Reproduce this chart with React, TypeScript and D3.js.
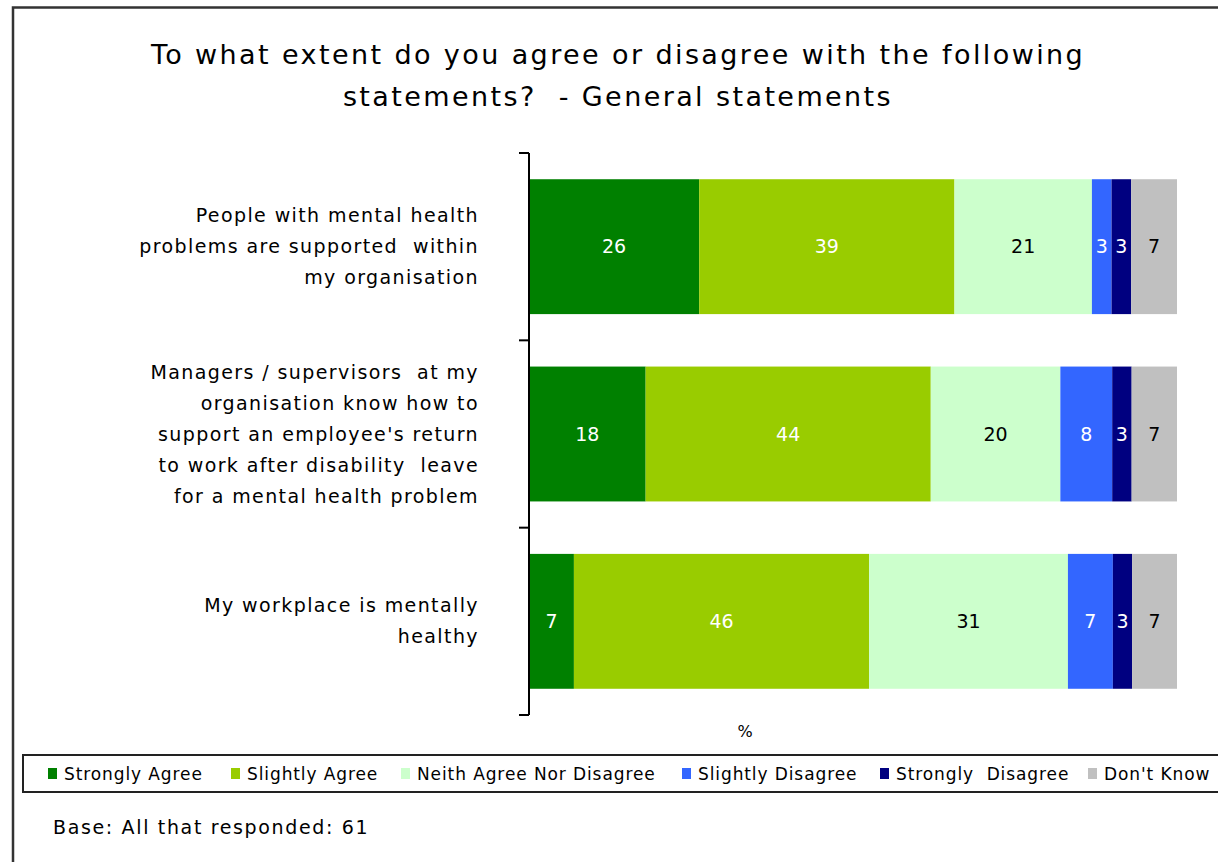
import React from "react";
import * as d3 from "d3";

const categories = [
  ["People with mental health", "problems are supported  within", "my organisation"],
  ["Managers / supervisors  at my", "organisation know how to", "support an employee's return", "to work after disability  leave", "for a mental health problem"],
  ["My workplace is mentally", "healthy"],
];
const seriesNames = ["Strongly Agree", "Slightly Agree", "Neith Agree Nor Disagree", "Slightly Disagree", "Strongly  Disagree", "Don't Know"];
const seriesColors = ["#008000", "#99cc00", "#ccffcc", "#3366ff", "#000080", "#c0c0c0"];
const labelColors = ["#ffffff", "#ffffff", "#000000", "#ffffff", "#ffffff", "#000000"];
const values = [
  [26, 39, 21, 3, 3, 7],
  [18, 44, 20, 8, 3, 7],
  [7, 46, 31, 7, 3, 7],
];
const titleLines = ["To what extent do you agree or disagree with the following", "statements?  - General statements"];
const baseNote = "Base: All that responded: 61";

const FONT = "'DejaVu Sans', sans-serif";

export default function App() {
  const W = 1218, H = 862;
  const x0 = 529, x1 = 1177;
  const yTop = 153, yBot = 715;
  const x = d3.scaleLinear().domain([0, 1]).range([x0, x1]);
  const y = d3.scaleBand<number>().domain(d3.range(categories.length)).range([yTop, yBot]).paddingInner(0.28).paddingOuter(0.14);
  const tickYs = d3.range(categories.length + 1).map((i) => yTop + (i * (yBot - yTop)) / categories.length);

  const rows = values.map((vals) => {
    const total = d3.sum(vals);
    let acc = 0;
    return vals.map((v, j) => {
      const start = acc / total;
      acc += v;
      return { v, j, start, end: acc / total };
    });
  });

  const legendX = [48, 231, 401, 682, 880, 1088];

  return (
    <svg width={W} height={H} style={{ position: "absolute", left: 0, top: 0, background: "#fff" }} fontFamily={FONT}>
      <rect x={13} y={7.5} width={W + 20} height={H + 20} fill="#fff" stroke="#333" strokeWidth={2.5} />
      {titleLines.map((t, i) => (
        <text key={i} x={618} y={64 + i * 42} textAnchor="middle" fontSize={27} letterSpacing={2.4} style={{ whiteSpace: "pre" }} fill="#000">{t}</text>
      ))}
      {rows.map((segs, i) => (
        <g key={i}>
          {segs.map((s) => (
            <rect key={s.j} x={x(s.start)} y={y(i)} width={x(s.end) - x(s.start)} height={y.bandwidth()} fill={seriesColors[s.j]} />
          ))}
          {segs.map((s) => (
            <text key={"l" + s.j} x={(x(s.start) + x(s.end)) / 2} y={(y(i) as number) + y.bandwidth() / 2} dy="0.35em" textAnchor="middle" fontSize={19} fill={labelColors[s.j]}>{s.v}</text>
          ))}
        </g>
      ))}
      <line x1={x0} x2={x0} y1={yTop} y2={yBot} stroke="#000" strokeWidth={2} />
      {tickYs.map((ty, i) => (
        <line key={i} x1={x0 - 10} x2={x0} y1={ty} y2={ty} stroke="#000" strokeWidth={2} />
      ))}
      {categories.map((lines, i) => {
        const cy = (y(i) as number) + y.bandwidth() / 2;
        const lh = 31;
        const startY = cy - ((lines.length - 1) * lh) / 2;
        return (
          <text key={i} textAnchor="end" fontSize={19} letterSpacing={1.4} style={{ whiteSpace: "pre" }} fill="#000">
            {lines.map((l, k) => (
              <tspan key={k} x={479} y={startY + k * lh} dy="0.35em">{l}</tspan>
            ))}
          </text>
        );
      })}
      <text x={745} y={731} dy="0.35em" textAnchor="middle" fontSize={16} fill="#000">%</text>
      <rect x={23} y={755} width={W + 20} height={37} fill="#fff" stroke="#222" strokeWidth={2} />
      {seriesNames.map((n, j) => (
        <g key={j}>
          <rect x={legendX[j]} y={768} width={9} height={11} fill={seriesColors[j]} />
          <text x={legendX[j] + 16} y={774} dy="0.35em" fontSize={17} letterSpacing={0.9} style={{ whiteSpace: "pre" }} fill="#000">{n}</text>
        </g>
      ))}
      <text x={53} y={827} dy="0.35em" fontSize={19} letterSpacing={1.65} fill="#000">{baseNote}</text>
    </svg>
  );
}
